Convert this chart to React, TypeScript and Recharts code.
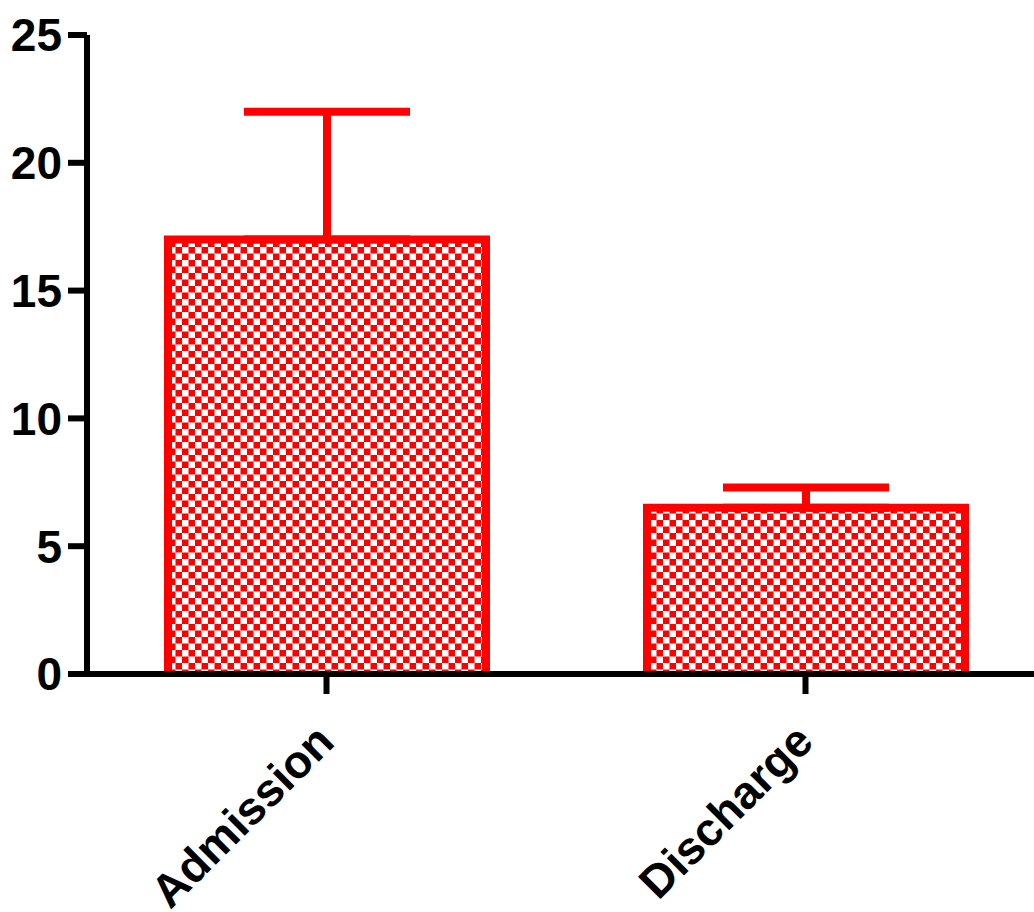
import React from 'react';
import { BarChart, Bar, XAxis, YAxis, ErrorBar } from 'recharts';

const categories = ['Admission', 'Discharge'];
const means = [17, 6.5];
const upperErrors = [5, 0.8];
const yTicks = [0, 5, 10, 15, 20, 25];

const data = categories.map((name, i) => ({
  name,
  value: means[i],
  err: [0, upperErrors[i]],
}));

const RED = '#ff0000';
const FONT = '"Liberation Sans", Arial, sans-serif';

const BarShape = (props: any) => {
  const { x, y, width, height } = props;
  return (
    <g>
      <rect x={x} y={y} width={width} height={height} fill="url(#checker)" />
      <path
        d={`M${x},${y + height} L${x},${y} L${x + width},${y} L${x + width},${y + height}`}
        fill="none"
        stroke={RED}
        strokeWidth={8}
        strokeLinejoin="miter"
      />
    </g>
  );
};

const XTick = (props: any) => {
  const { x, y, payload } = props;
  const ax = x + 10;
  return (
    <text
      x={ax}
      y={y}
      transform={`rotate(-45, ${ax}, ${y})`}
      textAnchor="end"
      fontFamily={FONT}
      fontWeight="bold"
      fontSize={46}
      fill="#000"
    >
      {payload.value}
    </text>
  );
};

export default function App() {
  return (
    <div
      style={{
        position: 'absolute',
        left: 0,
        top: 0,
        width: 1034,
        height: 912,
        overflow: 'hidden',
        background: '#fff',
      }}
    >
      <BarChart
        width={1046}
        height={912}
        data={data}
        margin={{ top: 35, right: 1, left: 0, bottom: 0 }}
        barSize={318}
      >
        <defs>
          <pattern id="checker" width={13} height={13} patternUnits="userSpaceOnUse">
            <rect x={0} y={0} width={13} height={13} fill="#fff" />
            <rect x={6.5} y={0} width={6.5} height={6.5} fill={RED} />
            <rect x={0} y={6.5} width={6.5} height={6.5} fill={RED} />
          </pattern>
        </defs>
        <Bar dataKey="value" shape={<BarShape />} isAnimationActive={false}>
          <ErrorBar dataKey="err" width={83} stroke={RED} strokeWidth={8} direction="y" />
        </Bar>
        <YAxis
          width={87}
          domain={[0, 25]}
          ticks={yTicks}
          interval={0}
          axisLine={{ stroke: '#000', strokeWidth: 6 }}
          tickLine={{ stroke: '#000', strokeWidth: 6 }}
          tickSize={19}
          tickMargin={6}
          tick={{ fill: '#000', fontFamily: FONT, fontWeight: 'bold', fontSize: 46 }}
        />
        <XAxis
          dataKey="name"
          height={238}
          interval={0}
          axisLine={{ stroke: '#000', strokeWidth: 6 }}
          tickLine={{ stroke: '#000', strokeWidth: 6 }}
          tickSize={20}
          tickMargin={50}
          tick={<XTick />}
        />
      </BarChart>
    </div>
  );
}
